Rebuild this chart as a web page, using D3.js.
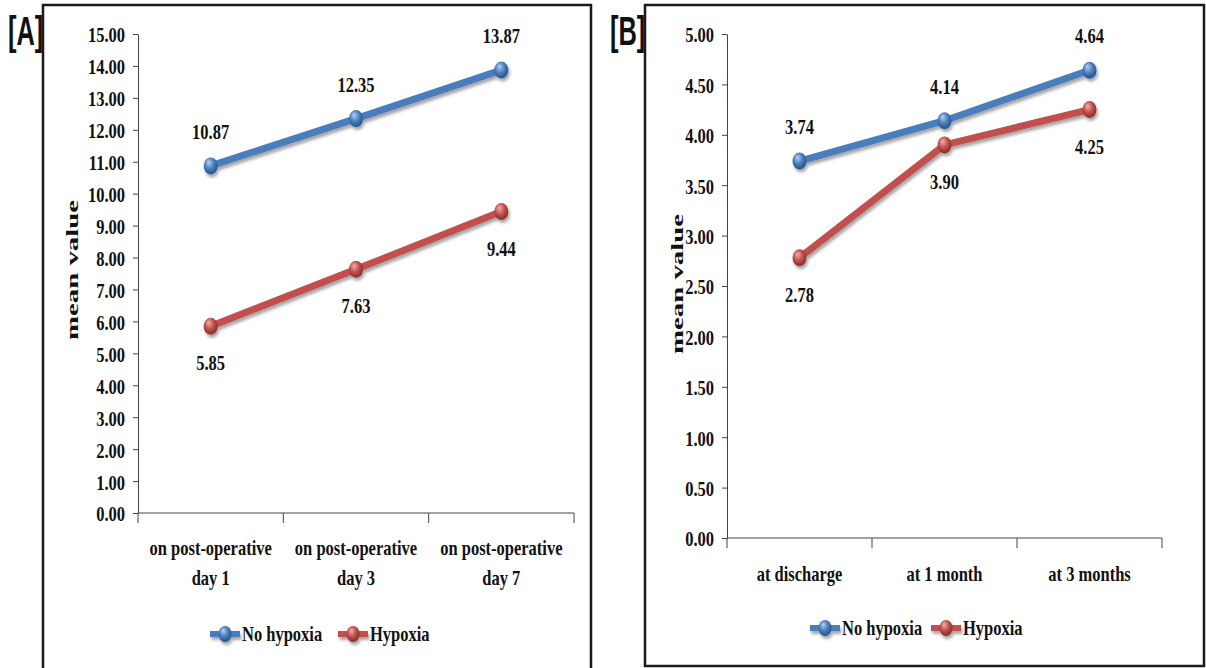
<!DOCTYPE html>
<html>
<head>
<meta charset="utf-8">
<script src="https://cdn.jsdelivr.net/npm/d3@7"></script>
<style>
  body { margin: 0; background: #fff; }
</style>
</head>
<body>
<svg id="chart" width="1206" height="668"></svg>
<script>
// ---- data ----
const seriesNames = ["No hypoxia", "Hypoxia"]
const catsA = [["on post-operative", "day 1"], ["on post-operative", "day 3"], ["on post-operative", "day 7"]]
const noHypoxiaA = [10.87, 12.35, 13.87]
const hypoxiaA = [5.85, 7.63, 9.44]
const ticksA = [0, 1, 2, 3, 4, 5, 6, 7, 8, 9, 10, 11, 12, 13, 14, 15]

const catsB = [["at discharge"], ["at 1 month"], ["at 3 months"]]
const noHypoxiaB = [3.74, 4.14, 4.64]
const hypoxiaB = [2.78, 3.90, 4.25]
const ticksB = [0, 0.5, 1, 1.5, 2, 2.5, 3, 3.5, 4, 4.5, 5]

const serif = "'Liberation Serif', 'Times New Roman', serif"
const sx = 0.75   // condensed look of the original font
const fs = 22
const colors = {blue: {base: "#4a7ebb", light: "#b5d0f2", dark: "#24528a"},
                red:  {base: "#c0504d", light: "#f4b0ae", dark: "#8a2a28"}}

const svg = d3.select("#chart")
const defs = svg.append("defs")

// sphere gradients for the markers
Object.entries(colors).forEach(([k, c]) => {
    const g = defs.append("radialGradient").attr("id", "ball-" + k)
        .attr("cx", "45%").attr("cy", "40%").attr("r", "60%")
        .attr("fx", "35%").attr("fy", "28%")
    g.append("stop").attr("offset", "0%").attr("stop-color", c.light)
    g.append("stop").attr("offset", "55%").attr("stop-color", c.base)
    g.append("stop").attr("offset", "100%").attr("stop-color", c.dark)
})
const shadow = defs.append("filter").attr("id", "shadow")
    .attr("x", "-20%").attr("y", "-20%").attr("width", "140%").attr("height", "160%")
shadow.append("feDropShadow").attr("dx", 1.5).attr("dy", 3).attr("stdDeviation", 1.8)
    .attr("flood-color", "#000").attr("flood-opacity", 0.35)

// text with a horizontal squeeze, anchored at x,y
function sText(g, x, y, str, size, anchor) {
    return g.append("text")
        .attr("transform", `translate(${x},${y}) scale(${sx},1)`)
        .attr("text-anchor", anchor || "middle")
        .style("font-family", serif).style("font-weight", "bold")
        .style("font-size", size + "px").attr("fill", "#111")
        .text(str)
}

function drawPanel(cfg) {
    const g = svg.append("g")

    // frame
    g.append("rect")
        .attr("x", cfg.box[0]).attr("y", cfg.box[1])
        .attr("width", cfg.box[2] - cfg.box[0]).attr("height", cfg.box[3] - cfg.box[1])
        .attr("fill", "none").attr("stroke", "#1a1a1a").attr("stroke-width", 2.5)

    // panel letter
    g.append("text")
        .attr("transform", `translate(${cfg.box[0] - 35},${cfg.box[1] + 40}) scale(0.62,1)`)
        .style("font-family", "'Liberation Sans', Arial, sans-serif").style("font-weight", "bold")
        .style("font-size", "41px").attr("fill", "#111")
        .text(cfg.letter)

    const x = d3.scaleBand().domain(d3.range(cfg.cats.length)).range([cfg.x0, cfg.x1]).padding(0)
    const y = d3.scaleLinear().domain([0, cfg.ticks[cfg.ticks.length - 1]]).range([cfg.y0, cfg.y1])

    // y axis
    const ya = g.append("g").attr("transform", `translate(${cfg.x0},0)`)
        .call(d3.axisLeft(y).tickValues(cfg.ticks).tickFormat(d3.format(".2f")).tickSizeInner(5).tickSizeOuter(0).tickPadding(8))
    ya.select(".domain").attr("stroke", "#444")
    ya.selectAll(".tick line").attr("stroke", "#444")
    ya.selectAll(".tick text")
        .attr("x", -13 / sx).attr("dy", "0.36em")
        .attr("transform", `scale(${sx},1)`)
        .style("font-family", serif).style("font-weight", "bold").style("font-size", fs + "px").attr("fill", "#111")

    // x axis
    const xa = g.append("g").attr("transform", `translate(0,${cfg.y0})`)
    xa.append("line").attr("x1", cfg.x0).attr("x2", cfg.x1).attr("stroke", "#444")
    const edges = d3.range(cfg.cats.length + 1).map(i => i < cfg.cats.length ? x(i) : cfg.x1)
    xa.selectAll(".xt").data(edges).join("line").attr("class", "xt")
        .attr("x1", d => d).attr("x2", d => d).attr("y1", 0).attr("y2", 10).attr("stroke", "#444")
    cfg.cats.forEach((lines, i) => {
        lines.forEach((ln, j) => {
            sText(g, x(i) + x.bandwidth() / 2, cfg.y0 + cfg.labelY + j * 30, ln, fs)
        })
    })

    // y title
    g.append("text")
        .attr("transform", `translate(${cfg.titleX},${cfg.titleY}) rotate(-90)`)
        .attr("text-anchor", "middle")
        .attr("textLength", 140).attr("lengthAdjust", "spacingAndGlyphs")
        .style("font-family", serif).style("font-weight", "bold").style("font-size", "17px").attr("fill", "#111")
        .text("mean value")

    // series
    const series = [
        {name: seriesNames[0], vals: cfg.blue, c: "blue", above: true},
        {name: seriesNames[1], vals: cfg.red, c: "red", above: false}
    ]
    const cx = i => x(i) + x.bandwidth() / 2
    const line = d3.line().x((d, i) => cx(i)).y(d => y(d))
    series.forEach(s => {
        const sg = g.append("g").attr("filter", "url(#shadow)")
        sg.append("path").datum(s.vals).attr("d", line)
            .attr("fill", "none").attr("stroke", colors[s.c].base).attr("stroke-width", 7)
        sg.selectAll("ellipse").data(s.vals).join("ellipse")
            .attr("cx", (d, i) => cx(i)).attr("cy", d => y(d))
            .attr("rx", 7).attr("ry", 8.5)
            .attr("fill", `url(#ball-${s.c})`)
    })
    series.forEach(s => {
        s.vals.forEach((v, i) => {
            sText(g, cx(i), y(v) + (s.above ? -27 : 44), v.toFixed(2), fs)
        })
    })

    // legend
    const lg = g.append("g").attr("transform", `translate(${cfg.legX},${cfg.legY})`)
    series.forEach((s, i) => {
        const ox = i * cfg.legGap
        const it = lg.append("g").attr("filter", "url(#shadow)")
        it.append("line").attr("x1", ox).attr("x2", ox + 30).attr("y1", 0).attr("y2", 0)
            .attr("stroke", colors[s.c].base).attr("stroke-width", 6)
        it.append("ellipse").attr("cx", ox + 15).attr("cy", 0).attr("rx", 6.5).attr("ry", 8)
            .attr("fill", `url(#ball-${s.c})`)
        sText(lg, ox + 32, 7, s.name, fs, "start")
    })
}

drawPanel({
    letter: "[A]", box: [43, 5, 591, 672],
    x0: 138, x1: 574, y0: 513, y1: 34,
    cats: catsA, ticks: ticksA, blue: noHypoxiaA, red: hypoxiaA,
    labelY: 42, titleX: 78, titleY: 270,
    legX: 210, legY: 634, legGap: 128
})

drawPanel({
    letter: "[B]", box: [645, 5, 1204, 666],
    x0: 727, x1: 1162, y0: 538, y1: 34,
    cats: catsB, ticks: ticksB, blue: noHypoxiaB, red: hypoxiaB,
    labelY: 43, titleX: 683, titleY: 284,
    legX: 810, legY: 628, legGap: 121
})
</script>
</body>
</html>
